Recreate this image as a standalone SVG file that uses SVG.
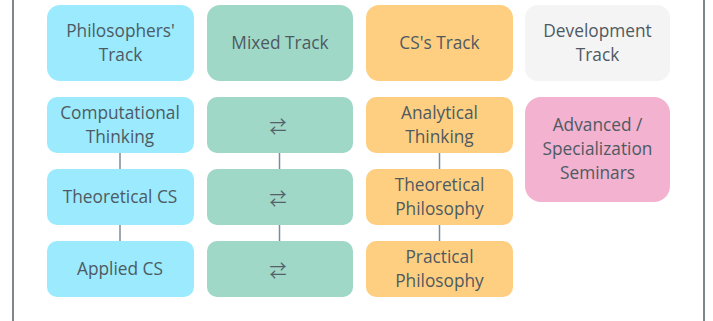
<svg xmlns="http://www.w3.org/2000/svg" width="713" height="321" viewBox="0 0 713 321">
<style>
.t{font-family:"Open Sans","Noto Sans","Liberation Sans",sans-serif;font-size:17.3px;fill:#4e5a62;text-anchor:middle;dominant-baseline:central}
.ar{font-family:"Noto Sans CJK JP","DejaVu Sans",sans-serif;font-size:17px;fill:#56626a;text-anchor:middle;dominant-baseline:central}
.b{fill:#9beafe}.g{fill:#a0d8c7}.o{fill:#fecf80}.w{fill:#f4f4f4}.p{fill:#f2b2d0}
.c{stroke:#7f8a92;stroke-width:1.5;fill:none}
</style>
<rect x="0" y="0" width="713" height="321" fill="#ffffff"/>
<line x1="13" y1="0" x2="13" y2="321" stroke="#7b868d" stroke-width="2"/>
<line x1="704" y1="0" x2="704" y2="321" stroke="#7b868d" stroke-width="2"/>
<g id="connectors">
<line class="c" x1="120" y1="153" x2="120" y2="169"/>
<line class="c" x1="120" y1="225" x2="120" y2="241"/>
<line class="c" x1="279.5" y1="153" x2="279.5" y2="169"/>
<line class="c" x1="279.5" y1="225" x2="279.5" y2="241"/>
<line class="c" x1="439.5" y1="153" x2="439.5" y2="169"/>
<line class="c" x1="439.5" y1="225" x2="439.5" y2="241"/>
</g>
<g id="philosophers-track"><rect class="b" x="47" y="5" width="147" height="76" rx="13"/><text class="t" x="120.5" y="30.5">Philosophers'</text><text class="t" x="120.5" y="54.5">Track</text></g>
<g id="mixed-track"><rect class="g" x="207" y="5" width="146" height="76" rx="13"/><text class="t" x="280" y="42.5">Mixed Track</text></g>
<g id="cs-track"><rect class="o" x="366" y="5" width="147" height="76" rx="13"/><text class="t" x="439.5" y="42.5">CS's Track</text></g>
<g id="development-track"><rect class="w" x="525" y="5" width="145" height="76" rx="13"/><text class="t" x="597.5" y="30.5">Development</text><text class="t" x="597.5" y="54.5">Track</text></g>
<g id="computational-thinking"><rect class="b" x="47" y="97" width="147" height="56" rx="10"/><text class="t" x="120" y="112.5">Computational</text><text class="t" x="120" y="136.5">Thinking</text></g>
<g id="theoretical-cs"><rect class="b" x="47" y="169" width="147" height="56" rx="10"/><text class="t" x="120" y="196.5">Theoretical CS</text></g>
<g id="applied-cs"><rect class="b" x="47" y="241" width="147" height="56" rx="10"/><text class="t" x="120" y="268.5">Applied CS</text></g>
<g id="mixed-1"><rect class="g" x="207" y="97" width="146" height="56" rx="10"/><text class="ar" x="278" y="125">⇄</text></g>
<g id="mixed-2"><rect class="g" x="207" y="169" width="146" height="56" rx="10"/><text class="ar" x="278" y="197">⇄</text></g>
<g id="mixed-3"><rect class="g" x="207" y="241" width="146" height="56" rx="10"/><text class="ar" x="278" y="269">⇄</text></g>
<g id="analytical-thinking"><rect class="o" x="366" y="97" width="147" height="56" rx="10"/><text class="t" x="439.5" y="112.5">Analytical</text><text class="t" x="439.5" y="136.5">Thinking</text></g>
<g id="theoretical-philosophy"><rect class="o" x="366" y="169" width="147" height="56" rx="10"/><text class="t" x="439.5" y="184.5">Theoretical</text><text class="t" x="439.5" y="208.5">Philosophy</text></g>
<g id="practical-philosophy"><rect class="o" x="366" y="241" width="147" height="56" rx="10"/><text class="t" x="439.5" y="256.5">Practical</text><text class="t" x="439.5" y="280.5">Philosophy</text></g>
<g id="advanced-seminars"><rect class="p" x="525" y="97" width="145" height="105" rx="16"/><text class="t" x="597.5" y="124.5">Advanced /</text><text class="t" x="597.5" y="148.5">Specialization</text><text class="t" x="597.5" y="172.5">Seminars</text></g>
</svg>
